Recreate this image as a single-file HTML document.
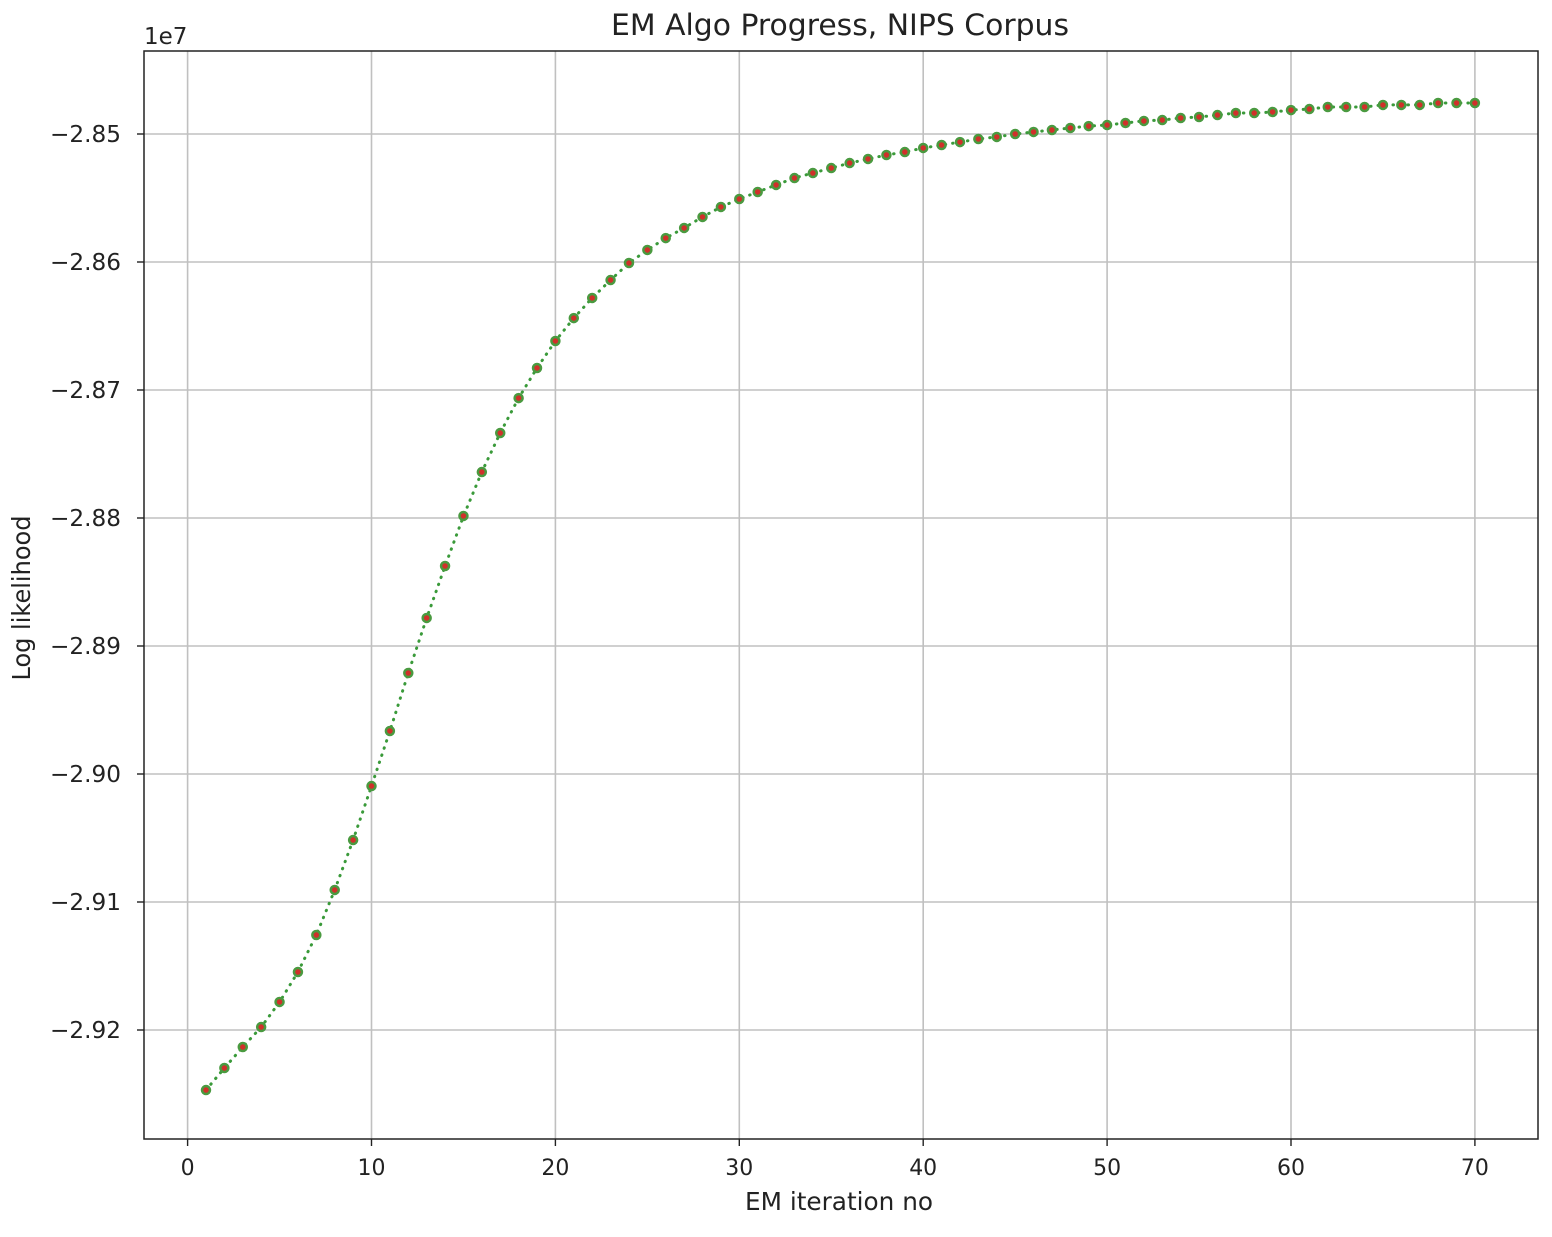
<!DOCTYPE html>
<html><head><meta charset="utf-8"><style>
body{margin:0;background:#fff;font-family:"Liberation Sans","DejaVu Sans",sans-serif}
svg text{font-family:"DejaVu Sans","Liberation Sans",sans-serif;fill:#222}
</style></head><body>
<svg id="chart" width="1552" height="1232" xmlns="http://www.w3.org/2000/svg">
<g id="grid"></g>
<g id="series"></g>
<rect x="144" y="51" width="1394" height="1088" fill="none" stroke="#222" stroke-width="1.5"/>
<g id="xticks"></g>
<g id="yticks"></g>
<text x="840" y="35" font-size="29" text-anchor="middle" textLength="458" lengthAdjust="spacingAndGlyphs">EM Algo Progress, NIPS Corpus</text>
<text x="839" y="1210" font-size="25" text-anchor="middle" textLength="188" lengthAdjust="spacingAndGlyphs">EM iteration no</text>
<text transform="translate(30,598) rotate(-90)" font-size="25" text-anchor="middle" textLength="165" lengthAdjust="spacingAndGlyphs">Log likelihood</text>
<text x="144" y="44" font-size="23">1e7</text>
</svg>
<script>
const xTicks=[0,10,20,30,40,50,60,70];
const yTicks=[-2.85,-2.86,-2.87,-2.88,-2.89,-2.90,-2.91,-2.92];
const yTickLabels=["\u22122.85","\u22122.86","\u22122.87","\u22122.88","\u22122.89","\u22122.90","\u22122.91","\u22122.92"];
const iterations=[1,2,3,4,5,6,7,8,9,10,11,12,13,14,15,16,17,18,19,20,21,22,23,24,25,26,27,28,29,30,31,32,33,34,35,36,37,38,39,40,41,42,43,44,45,46,47,48,49,50,51,52,53,54,55,56,57,58,59,60,61,62,63,64,65,66,67,68,69,70];
const logLik=[-2.92469,-2.92297,-2.92133,-2.91977,-2.91781,-2.91547,-2.91258,-2.90906,-2.90516,-2.90094,-2.89664,-2.89211,-2.88781,-2.88375,-2.87984,-2.87641,-2.87336,-2.87063,-2.86828,-2.86617,-2.86438,-2.86281,-2.86141,-2.86008,-2.85906,-2.85813,-2.85734,-2.85648,-2.85570,-2.85508,-2.85453,-2.85398,-2.85344,-2.85305,-2.85266,-2.85227,-2.85195,-2.85164,-2.85141,-2.85109,-2.85086,-2.85063,-2.85039,-2.85023,-2.85000,-2.84984,-2.84969,-2.84953,-2.84938,-2.84930,-2.84914,-2.84898,-2.84891,-2.84875,-2.84867,-2.84852,-2.84836,-2.84836,-2.84828,-2.84813,-2.84805,-2.84789,-2.84789,-2.84789,-2.84773,-2.84773,-2.84773,-2.84758,-2.84758,-2.84758];
const NS="http://www.w3.org/2000/svg";
const X=v=>187.6+v*18.39;
const Y=v=>134+(-2.85-v)*12800;
function mk(t,a,p){const e=document.createElementNS(NS,t);for(const k in a)e.setAttribute(k,a[k]);p.appendChild(e);return e;}
const grid=document.getElementById('grid'),xt=document.getElementById('xticks'),yt=document.getElementById('yticks'),ser=document.getElementById('series');
xTicks.forEach(v=>{const x=X(v);
 const g=mk('line',{x1:x,x2:x,y1:51,y2:1139,stroke:'#c0c0c0','stroke-width':1.6},grid);
 
 
 const t=mk('line',{x1:x,x2:x,y1:1139,y2:1146,stroke:'#222','stroke-width':1.4},xt);
 
 
 const l=mk('text',{x:x,y:1175,'font-size':22,'text-anchor':'middle'},xt);l.textContent=v;
 
 
});
yTicks.forEach((v,i)=>{const y=Y(v);
 const g=mk('line',{x1:144,x2:1538,y1:y,y2:y,stroke:'#c0c0c0','stroke-width':1.6},grid);
 
 
 const t=mk('line',{x1:137,x2:144,y1:y,y2:y,stroke:'#222','stroke-width':1.4},yt);
 
 
 const l=mk('text',{x:121,y:y+8,'font-size':23,'text-anchor':'end',textLength:71,lengthAdjust:'spacingAndGlyphs'},yt);l.textContent=yTickLabels[i];
 
 
});
const pts=iterations.map((v,i)=>X(v).toFixed(1)+','+Y(logLik[i]).toFixed(1)).join(' ');
const line=mk('polyline',{points:pts,fill:'none',stroke:'#3a9a3a','stroke-width':3,'stroke-dasharray':'0.5,7','stroke-linecap':'round'},ser);


iterations.forEach((v,i)=>{
 const c=mk('circle',{cx:X(v),cy:Y(logLik[i]),r:4,fill:'#d0302a',stroke:'#4a9a40','stroke-width':2.5},ser);
 
 
});
</script>
</body></html>
